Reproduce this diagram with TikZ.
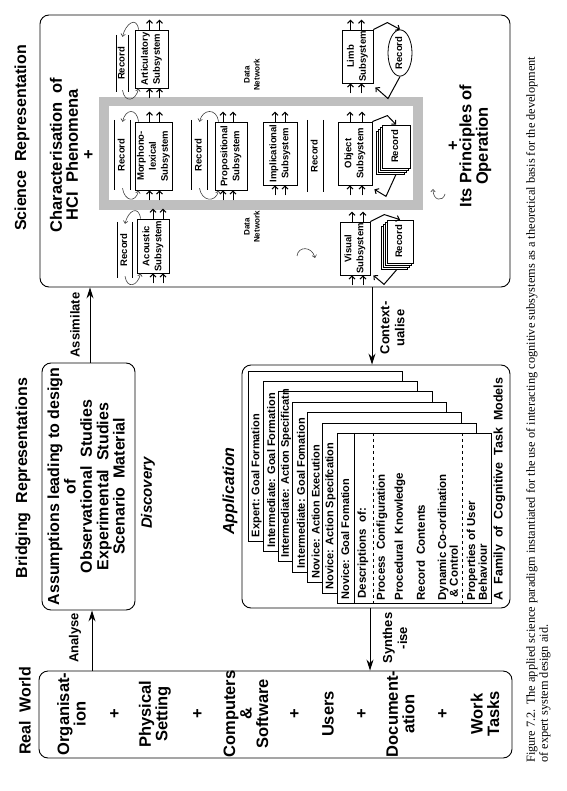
\documentclass[tikz,border=0pt]{standalone}
\usepackage{fontspec}
\setmainfont{Liberation Sans}
\newfontfamily\capfont{Liberation Serif}
\usetikzlibrary{arrows.meta,calc,shapes.geometric}
\newcommand{\fs}[2]{\fontsize{#1}{#2}\selectfont}
\newcommand{\rt}[1]{\rotatebox{90}{\begin{tabular}{@{}c@{}}#1\end{tabular}}}
\newcommand{\recl}[1]{\draw[line width=0.8pt] (#1.north west) -- (#1.south west) (#1.north east) -- (#1.south east);}
\newcommand{\twoup}[3]{%
  \draw[sa] ([xshift=#2pt]#1.north) -- ++(0,-10);
  \draw[sa] ([xshift=#3pt]#1.north) -- ++(0,-10);
  \draw[sa] ([xshift=#2pt,yshift=-10pt]#1.south) -- ++(0,-10);
  \draw[sa] ([xshift=#3pt,yshift=-10pt]#1.south) -- ++(0,-10);}
\newcommand{\recarcs}[2]{%
  \draw[ca] ([xshift=4pt]#2.north west) .. controls +(-2,-14) and +(3,-13) .. ([yshift=-2pt]#1.north);
  \draw[ca] ([yshift=2pt]#1.south) .. controls +(2,13) and +(-3,13) .. ([xshift=4pt]#2.south west);}
\begin{document}
\begin{tikzpicture}[x=1pt,y=-1pt,
  big/.style={draw, rounded corners=9pt, line width=0.9pt},
  sub/.style={draw, fill=white, line width=0.8pt, inner sep=0pt, font=\bfseries\fs{9.5}{12}},
  recn/.style={inner sep=0pt, font=\bfseries\fs{9.5}{11}},
  stk/.style={draw, fill=white, line width=0.7pt, inner sep=0pt, font=\bfseries\fs{9.5}{11}},
  sa/.style={-{Straight Barb[length=3pt,width=6pt]}, line width=1pt},
  ca/.style={-{Straight Barb[length=2.5pt,width=4.5pt]}, line width=0.6pt, draw=black!75},
  ttl/.style={rotate=90, font=\bfseries\fs{16}{16}, align=center, inner sep=0pt},
  lbl/.style={rotate=90, font=\bfseries\fs{13}{15}, align=center, inner sep=0pt},
  bigarr/.style={-{Stealth[length=11pt,width=7pt]}, line width=0.9pt},
  card/.style={draw, fill=white, line width=0.8pt, minimum width=154, minimum height=170, anchor=north west, inner sep=0pt},
  ctx/.style={rotate=90, anchor=west, inner sep=0pt, font=\bfseries\fs{11}{12}},
  itx/.style={rotate=90, anchor=west, inner sep=0pt, font=\bfseries\fs{11.5}{10.5}, align=left},
  dn/.style={rotate=90, inner sep=0pt, font=\bfseries\fs{8}{10}, align=center}
]
\useasboundingbox (0,0) rectangle (566,791);

% ---------- titles ----------
\node[ttl] (t1) at (22,138) {Science~ Representation};
\node[ttl] (t2) at (23,478) {Bridging~ Representations};
\node[ttl] (t3) at (25,711) {Real~ World};

% ---------- science representation ----------
\node[big, minimum width=470, minimum height=272] (sci) at (275,151) {};
\node[ttl, font=\bfseries\fs{16.5}{16}] (chr) at (72,155) {Characterisation~ of\\HCI~ Phenomena\\+};
\node[ttl, font=\bfseries\fs{16.5}{13}] (prn) at (470,146) {+\\Its Principles of\\Operation};

\node[draw=gray!50, line width=9.5pt, minimum width=314, minimum height=103.5, inner sep=0pt] (frame) at (261,153.25) {};

\node[dn] (dn1) at (252,75) {Data\\Network};
\node[dn] (dn2) at (252,227) {Data\\Network};

% subsystems
\node[sub, minimum width=33, minimum height=58] (art) at (151.5,59) {\rt{Articulatory\\Subsystem}};
\node[sub, minimum width=37, minimum height=68] (mor) at (153.5,156) {\rt{Morphono-\\lexical\\Subsystem}};
\node[sub, minimum width=32, minimum height=54] (aco) at (153,246) {\rt{Acoustic\\Subsystem}};
\node[sub, minimum width=32, minimum height=68] (pro) at (231,156) {\rt{Propositional\\Subsystem}};
\node[sub, minimum width=34, minimum height=63] (imp) at (280,153.5) {\rt{Implicational\\Subsystem}};
\node[sub, minimum width=34, minimum height=63] (obj) at (355,153.5) {\rt{Object\\Subsystem}};
\node[sub, minimum width=31, minimum height=53] (lim) at (357.5,56.5) {\rt{Limb\\Subsystem}};
\node[sub, minimum width=30, minimum height=53] (vis) at (355,248.5) {\rt{Visual\\Subsystem}};

% records (data stores)
\node[recn, minimum width=12, minimum height=57] (artr) at (122.5,63.5) {\rt{Record}};
\node[recn, minimum width=15, minimum height=70] (morr) at (122.5,155) {\rt{Record}};
\node[recn, minimum width=14, minimum height=56] (acor) at (125,250) {\rt{Record}};
\node[recn, minimum width=15, minimum height=70] (pror) at (199.5,155) {\rt{Record}};
\node[recn, minimum width=15, minimum height=72] (impr) at (315.5,156) {\rt{Record}};
\recl{artr}\recl{morr}\recl{acor}\recl{pror}\recl{impr}

% stacked records
\foreach \k in {3,2,1} {
  \node[stk, minimum width=28, minimum height=43] (objb\k) at ({396-2*\k},{146.5+2*\k}) {};
  \node[stk, minimum width=26, minimum height=43] (visb\k) at ({400-2*\k},{241.5+2*\k}) {};
}
\node[stk, minimum width=28, minimum height=43] (objr) at (396,146.5) {\rt{Record}};
\node[stk, minimum width=26, minimum height=43] (visr) at (400,241.5) {\rt{Record}};
\node[draw, line width=0.8pt, ellipse, minimum width=24, minimum height=42, inner sep=0pt, font=\bfseries\fs{9.5}{11}] (limr) at (400,53) {\rt{Record}};

% data-flow arrows
\twoup{art}{-2}{8}
\twoup{mor}{-4}{6}
\twoup{aco}{0}{10}
\twoup{pro}{-8}{2}
\twoup{imp}{-5}{5}
\twoup{obj}{-5}{7}
\twoup{lim}{-7}{4}
\twoup{vis}{-3}{8}

\recarcs{artr}{art}
\recarcs{morr}{mor}
\recarcs{acor}{aco}
\recarcs{pror}{pro}

\draw[sa] (obj.north east) -- ++(15,-6) -- (objr.north);
\draw[sa] ([xshift=6pt]objb3.south) -- ++(-10,22) -- ([xshift=2pt,yshift=-4pt]obj.south east);
\draw[sa] (lim.north east) -- ++(14,-7) -- (limr.north);
\draw[sa] (limr.south) -- ++(-12,22) -- ([xshift=2pt,yshift=-4pt]lim.south east);
\draw[sa] (vis.north east) -- ++(14,-7) -- (visr.north);
\draw[sa] ([xshift=3pt]visb3.south) -- ++(-13,15) -- ([xshift=3pt]vis.south east);

% loose circular arrows
\draw[ca] (297,256) .. controls (298,246) and (312,246) .. (315,258);
\draw[ca] (445,194) .. controls (443,202) and (433,201) .. (433,189);

% ---------- bridging representations ----------
\node[big, minimum width=93, minimum height=247, font=\bfseries\fs{16}{16}] (ass) at (88.5,486.5)
  {\rt{Assumptions leading to design\\of\\Observational~ Studies\\Experimental~ Studies\\Scenario~ Material}};
\node[ttl, font=\bfseries\itshape\fs{15}{15}] (disc) at (148,493) {Discovery};
\node[ttl, font=\bfseries\itshape\fs{16}{16}] (appl) at (230,491) {Application};

\node[big, minimum width=268, minimum height=243] (app) at (376,486.5) {};
\foreach \i/\t in {0/Expert: Goal Formation, 1/Intermediate: Goal Formation, 2/Intermediate: Action Specificatn, 3/Intermediate: Goal Fomation, 4/Novice: Action Execution, 5/Novice: Action Specifcation, 6/Novice: Goal Fomation} {
  \node[card] (c\i) at ({248+14.8*\i},{370.5+10.4*\i}) {};
  \node[ctx] (ct\i) at ($(c\i.south west)+(8.5,-4)$) {\t};
}
\draw[line width=0.8pt] ($(c6.north west)+(17.5,0)$) -- ($(c6.south west)+(17.5,0)$);
\draw[dashed, line width=0.8pt] ($(c6.north west)+(37,0)$) -- ($(c6.south west)+(37,0)$);
\draw[dashed, line width=0.8pt] ($(c6.north west)+(126,0)$) -- ($(c6.south west)+(126,0)$);
\node[itx] (d1) at ($(c6.south west)+(26,-5)$) {Descriptions~ of:};
\node[itx] (d2) at ($(c6.south west)+(45,-3)$) {Process~ Configuration};
\node[itx] (d3) at ($(c6.south west)+(63,-3)$) {Procedural~ Knowledge};
\node[itx] (d4) at ($(c6.south west)+(84,-3)$) {Record~ Contents};
\node[itx] (d5) at ($(c6.south west)+(111,-3)$) {Dynamic Co-ordination\\\hspace{3pt}\& Control};
\node[itx] (d6) at ($(c6.south west)+(140,-3)$) {Properties of User\\Behaviour};
\node[itx, font=\bfseries\fs{12.5}{12}] (fam) at ($(c6.south west)+(162.5,-3)$) {A~ Family~ of~ Cognitive~ Task~ Models};

% ---------- real world ----------
\node[big, minimum width=473, minimum height=87] (rw) at (275.5,714.5) {};
\begin{scope}[every node/.style={ttl, font=\bfseries\fs{16.5}{16.5}}]
\node (w1) at (71.5,714) {Organisat-\\ion};
\node (p1) at (115,714) {+};
\node (w2) at (155,714) {Physical\\Setting};
\node (p2) at (198,714) {+};
\node (w3) at (246,714) {Computers\\\&\\Software};
\node (p3) at (295,714) {+};
\node (w4) at (328,714) {Users};
\node (p4) at (362,714) {+};
\node (w5) at (400.5,714) {Document-\\ation};
\node (p5) at (443,714) {+};
\node (w6) at (485,714) {Work\\Tasks};
\end{scope}

% ---------- connectors between representations ----------
\draw[bigarr] ([xshift=1.5pt]ass.north) -- ([xshift=1.5pt]ass.north |- sci.south);
\node[lbl] (l1) at (75,325) {Assimilate};
\draw[bigarr] (sci.south -| 372,0) -- (app.north -| 372,0);
\node[lbl] (l2) at (392.5,328) {Context-\\ualise};
\draw[bigarr] ([xshift=3.5pt]ass.south |- rw.north) -- ([xshift=3.5pt]ass.south);
\node[lbl] (l3) at (75,638) {Analyse};
\draw[bigarr] (app.south -| 370,0) -- (rw.north -| 370,0);
\node[lbl] (l4) at (395,638) {Synthes\\-ise};

% ---------- caption ----------
\node[rotate=90, anchor=north west, inner sep=0pt, align=left, font=\capfont\fs{12.35}{13}] (cap) at (526,763)
  {Figure 7.2. The applied science paradigm instantiated for the use of interacting cognitive subsystems as a theoretical basis for the development\\of expert system design aid.};
\end{tikzpicture}
\end{document}
